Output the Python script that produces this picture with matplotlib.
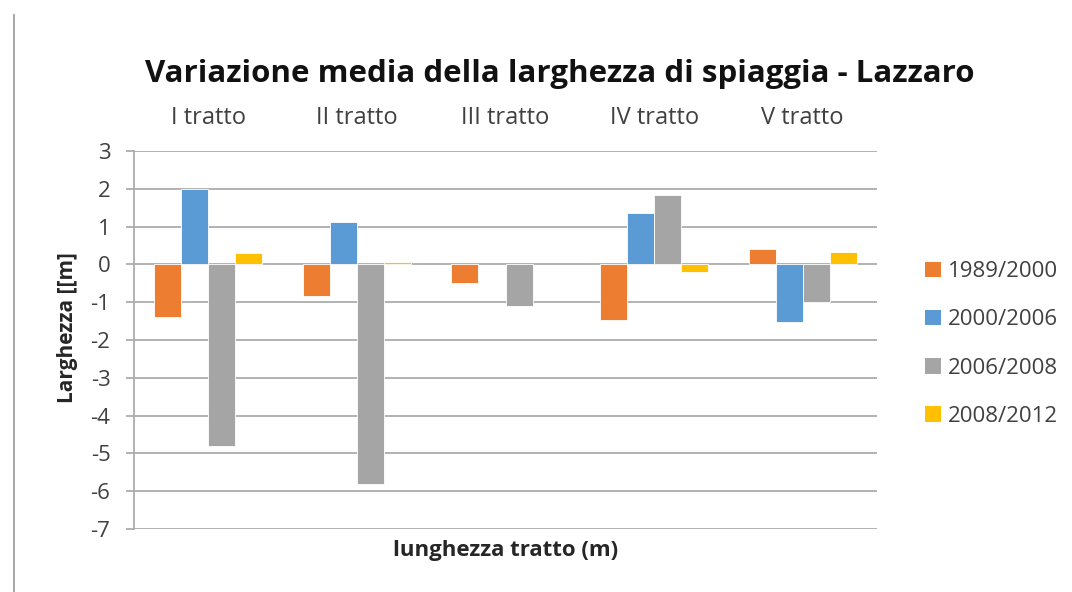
import numpy as np
import matplotlib
matplotlib.use("Agg")
import matplotlib.pyplot as plt
from matplotlib.patches import Patch
from matplotlib.lines import Line2D

plt.rcParams['font.family'] = ['Open Sans', 'DejaVu Sans']

categories = ["I tratto", "II tratto", "III tratto", "IV tratto", "V tratto"]
series_names = ["1989/2000", "2000/2006", "2006/2008", "2008/2012"]
s1989_2000 = [-1.38, -0.83, -0.49, -1.48, 0.42]
s2000_2006 = [1.99, 1.13, np.nan, 1.37, -1.52]
s2006_2008 = [-4.80, -5.82, -1.10, 1.83, -0.99]
s2008_2012 = [0.31, 0.07, np.nan, -0.19, 0.34]
yticks = [3, 2, 1, 0, -1, -2, -3, -4, -5, -6, -7]

colors = ["#ED7D31", "#5B9BD5", "#A5A5A5", "#FFC000"]
series = [s1989_2000, s2000_2006, s2006_2008, s2008_2012]

W, H = 1072, 592
fig = plt.figure(figsize=(W / 100, H / 100), dpi=100)
ax = fig.add_axes([134 / W, 1 - 529 / H, (877 - 134) / W, (529 - 151) / H])

x = np.arange(len(categories))
bw = 1 / 5.5
for i, (vals, c) in enumerate(zip(series, colors)):
    ax.bar(x + (i - 1.5) * bw, vals, width=bw, color=c, edgecolor='white',
           linewidth=0.6, zorder=3)

ax.set_xlim(-0.5, len(categories) - 0.5)
ax.set_ylim(-7, 3)
ax.set_yticks(yticks)
ax.set_yticklabels([str(t) for t in yticks], fontsize=16, color='#404040')
ax.yaxis.grid(True, color='#ADADAD', linewidth=1.3, zorder=0)
ax.set_axisbelow(True)
for s in ['top', 'right', 'bottom']:
    ax.spines[s].set_visible(False)
ax.spines['left'].set_color('#ADADAD')
ax.spines['left'].set_linewidth(1.3)
ax.tick_params(axis='y', length=6, color='#ADADAD', width=1.3, pad=11)

ax.xaxis.tick_top()
ax.set_xticks(x)
ax.set_xticklabels(categories, fontsize=17, color='#404040')
ax.tick_params(axis='x', length=0, pad=15)

ax.set_xlabel("lunghezza tratto (m)", fontsize=16, fontweight='bold', color='#262626')
ax.xaxis.set_label_position('bottom')
ax.xaxis.labelpad = 8
ax.set_ylabel("Larghezza [[m]", fontsize=15, fontweight='bold', color='#262626')
ax.yaxis.set_label_coords(-0.076, 0.534)

fig.text(560 / W, 1 - 74 / H, "Variazione media della larghezza di spiaggia - Lazzaro",
         ha='center', va='center', fontsize=22.5, fontweight='bold', color='#111111')

handles = [Patch(facecolor=c, edgecolor='none') for c in colors]
fig.legend(handles, series_names, loc='center left', bbox_to_anchor=(905 / W, 1 - 344 / H),
           frameon=False, fontsize=16, handlelength=0.7, handleheight=0.7,
           handletextpad=0.35, labelspacing=1.22, labelcolor='#404040')

fig.add_artist(Line2D([14 / W, 14 / W], [0, 1 - 15 / H], color='#A0A0A0', linewidth=1.3))

fig.savefig("out.png", dpi=100, facecolor='white')
